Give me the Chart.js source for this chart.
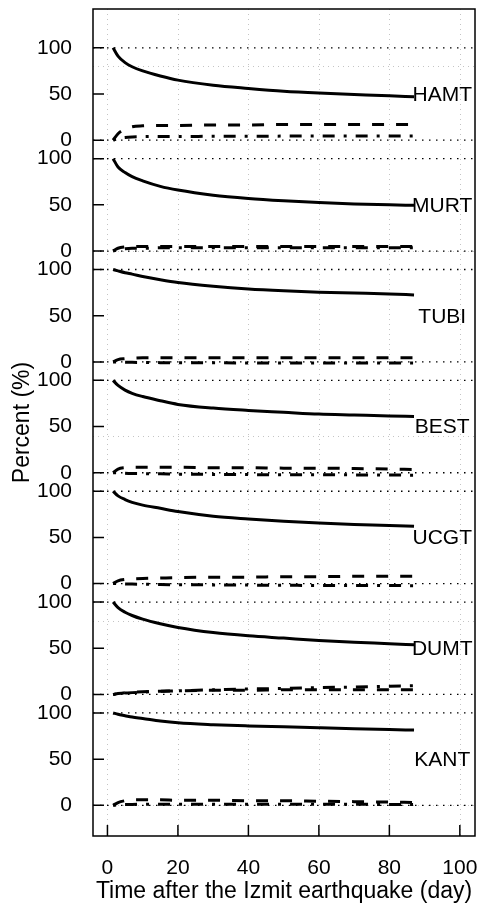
<!DOCTYPE html>
<html>
<head>
<meta charset="utf-8">
<script src="https://cdn.jsdelivr.net/npm/chart.js@4.4.0/dist/chart.umd.min.js"></script>
<style>
  html, body { margin: 0; padding: 0; background: #fff; }
</style>
</head>
<body>
<canvas id="chart" width="490" height="920"></canvas>
<script>
// days after the Izmit earthquake, shared by every curve
const days = [1.6, 3, 5, 7, 10, 15, 20, 30, 40, 50, 60, 70, 80, 87];

// percent values per station: solid, dashed, dot-dash
const hamtSolid = [100, 91, 84, 79.5, 75, 69.5, 65, 59.5, 56, 53, 51, 49.5, 48, 47];
const hamtDash  = [0, 7, 12, 14.5, 15.5, 16, 16, 16.5, 16.5, 17, 17, 17, 17, 17];
const hamtDot   = [0, 2, 3, 3.5, 3.8, 4, 4, 4.2, 4.3, 4.4, 4.5, 4.5, 4.6, 4.6];

const murtSolid = [100, 91, 85, 80.5, 76, 70, 66, 60.5, 57, 54.5, 52.5, 51, 50, 49.5];
const murtDash  = [0, 3, 4.5, 5, 5, 5, 5, 5, 5, 5, 5, 5, 5, 5];
const murtDot   = [0, 1.5, 2.5, 3, 3, 3.5, 3.5, 3.5, 3.5, 3.5, 3.5, 3.5, 3.5, 3.5];

const tubiSolid = [100, 98.5, 96.5, 95, 92.5, 89, 86, 82, 79, 77, 75.5, 74.5, 73.5, 72.5];
const tubiDash  = [0, 2.5, 3.5, 4, 4.5, 4.5, 4.5, 4.5, 4.5, 4.5, 4.5, 4.5, 4.5, 4.5];
const tubiDot   = [0, 0, -0.3, -0.5, -0.6, -0.8, -0.9, -1, -1.1, -1.2, -1.2, -1.3, -1.3, -1.3];

const bestSolid = [100, 94.5, 89.5, 86, 82.5, 78, 74, 70, 67.5, 65.5, 63.5, 62.5, 61.5, 61];
const bestDash  = [0, 4, 5.5, 6, 6, 6, 6, 5.5, 5.5, 5, 5, 4.5, 4, 3.5];
const bestDot   = [0, 0, -0.5, -0.8, -1, -1.2, -1.5, -1.8, -2, -2.1, -2.2, -2.3, -2.5, -2.6];

const ucgtSolid = [100, 95, 91, 88, 85, 81.5, 78, 73, 70, 67.5, 65.5, 64, 63, 62];
const ucgtDash  = [0, 3, 4.5, 5, 5.5, 6, 6.5, 7, 7, 7.5, 7.5, 8, 8, 8];
const ucgtDot   = [0, 0, -0.3, -0.5, -0.7, -1, -1.2, -1.4, -1.6, -1.8, -2, -2, -2.1, -2.2];

const dumtSolid = [100, 94, 89, 85.5, 81.5, 76.5, 72.5, 67, 63.5, 61, 58.5, 56.5, 55, 53.8];
const dumtDash  = [0, 1, 2, 2.5, 3, 3.5, 4, 4.5, 4.5, 5, 5, 5, 5, 5];
const dumtDot   = [0, 1, 1.5, 2, 2.5, 3.5, 4, 5, 6, 6.5, 7.5, 8, 9, 9.5];

const kantSolid = [100, 98.5, 97, 95.5, 94, 91.3, 89.3, 87.3, 86, 85, 84, 83, 82, 81.5];
const kantDash  = [0, 3, 5, 6, 6, 6, 5.5, 5.5, 5, 5, 4.5, 4, 3.5, 3];
const kantDot   = [0, 0.5, 1, 1, 1.2, 1.3, 1.3, 1.3, 1.3, 1.2, 1.2, 1.1, 1, 1];

const stations = ['HAMT', 'MURT', 'TUBI', 'BEST', 'UCGT', 'DUMT', 'KANT'];
const series = [
    [hamtSolid, hamtDash, hamtDot],
    [murtSolid, murtDash, murtDot],
    [tubiSolid, tubiDash, tubiDot],
    [bestSolid, bestDash, bestDot],
    [ucgtSolid, ucgtDash, ucgtDot],
    [dumtSolid, dumtDash, dumtDot],
    [kantSolid, kantDash, kantDot]
];
const xTicks = [0, 20, 40, 60, 80, 100];
const yLabels = [0, 50, 100];

// panels are stacked on one axis, 120 units apart, top panel first
const panelGap = 120;
const offsetOf = i => (stations.length - 1 - i) * panelGap;

const dashes = [[], [12, 12], [3, 9, 12, 9]];
const datasets = [];
series.forEach((group, i) => {
    group.forEach((vals, k) => {
        datasets.push({
            data: days.map((d, j) => ({x: d, y: vals[j] + offsetOf(i)})),
            borderColor: '#000',
            borderWidth: 3,
            borderDash: dashes[k],
            pointRadius: 0,
            cubicInterpolationMode: 'monotone',
            fill: false
        });
    });
});

const yTickValues = [];
stations.forEach((s, i) => yLabels.forEach(v => yTickValues.push(offsetOf(i) + v)));

const FONT = '"Liberation Sans", Arial, sans-serif';

/*
 * Frame, reference lines, inward ticks and station names
 */
const frame = {
    id: 'frame',
    beforeDatasetsDraw(chart) {
        const {ctx, chartArea: a, scales: {x, y}} = chart;
        ctx.save();
        const hline = py => { ctx.beginPath(); ctx.moveTo(a.left, py); ctx.lineTo(a.right, py); ctx.stroke(); };

        ctx.lineWidth = 1;
        ctx.strokeStyle = '#c4c4c4';
        ctx.setLineDash([1, 4]);
        xTicks.forEach(v => {
            const px = Math.round(x.getPixelForValue(v)) + 0.5;
            ctx.beginPath(); ctx.moveTo(px, a.top); ctx.lineTo(px, a.bottom); ctx.stroke();
        });
        [0, 200, 400, 600, 800].forEach(v => hline(Math.round(y.getPixelForValue(v)) + 0.5));

        ctx.strokeStyle = '#000';
        ctx.lineWidth = 1.3;
        ctx.setLineDash([1.5, 5.5]);
        stations.forEach((s, i) => {
            hline(y.getPixelForValue(offsetOf(i)));
            hline(y.getPixelForValue(offsetOf(i) + 100));
        });
        ctx.restore();
    },
    afterDatasetsDraw(chart) {
        const {ctx, chartArea: a, scales: {x, y}} = chart;
        ctx.save();
        ctx.strokeStyle = '#000';
        ctx.lineWidth = 1.5;
        ctx.strokeRect(a.left, a.top, a.right - a.left, a.bottom - a.top);

        ctx.beginPath();
        yTickValues.forEach(v => {
            const py = y.getPixelForValue(v);
            ctx.moveTo(a.left, py); ctx.lineTo(a.left + 11, py);
        });
        xTicks.forEach(v => {
            const px = x.getPixelForValue(v);
            ctx.moveTo(px, a.bottom); ctx.lineTo(px, a.bottom - 11);
        });
        ctx.stroke();

        ctx.fillStyle = '#000';
        ctx.font = '21px ' + FONT;
        ctx.textAlign = 'center';
        ctx.textBaseline = 'middle';
        stations.forEach((s, i) => {
            ctx.fillText(s, x.getPixelForValue(95), y.getPixelForValue(offsetOf(i) + 50) + 1);
        });
        ctx.restore();
    }
};

new Chart(document.getElementById('chart').getContext('2d'), {
    type: 'line',
    plugins: [frame],
    data: {datasets},
    options: {
        responsive: false,
        animation: false,
        layout: {padding: {top: 9, right: 15, left: 0, bottom: 0}},
        plugins: {
            legend: {display: false},
            tooltip: {enabled: false}
        },
        scales: {
            x: {
                type: 'linear',
                min: -4.1,
                max: 104.3,
                afterBuildTicks: s => { s.ticks = xTicks.map(v => ({value: v})); },
                afterFit: s => {
                    s.height = 84;
                    s.paddingLeft = 0;
                    s.paddingRight = 0;
                },
                grid: {display: false, drawTicks: false},
                border: {display: false},
                ticks: {
                    color: '#000',
                    padding: 20,
                    autoSkip: false,
                    maxRotation: 0,
                    font: {family: FONT, size: 21}
                },
                title: {
                    display: true,
                    text: 'Time after the Izmit earthquake (day)',
                    color: '#000',
                    font: {family: FONT, size: 23},
                    padding: {top: 0, bottom: 15}
                }
            },
            y: {
                type: 'linear',
                min: -33.2,
                max: 862,
                afterBuildTicks: s => { s.ticks = yTickValues.map(v => ({value: v})); },
                afterFit: s => {
                    s.width = 93;
                    s.paddingTop = 0;
                    s.paddingBottom = 0;
                },
                grid: {display: false, drawTicks: false},
                border: {display: false},
                ticks: {
                    color: '#000',
                    padding: 21,
                    autoSkip: false,
                    font: {family: FONT, size: 21},
                    callback: v => String(((v % panelGap) + panelGap) % panelGap)
                },
                title: {
                    display: true,
                    text: 'Percent (%)',
                    color: '#000',
                    font: {family: FONT, size: 23},
                    padding: {top: 9, bottom: 0}
                }
            }
        }
    }
});
</script>
</body>
</html>
